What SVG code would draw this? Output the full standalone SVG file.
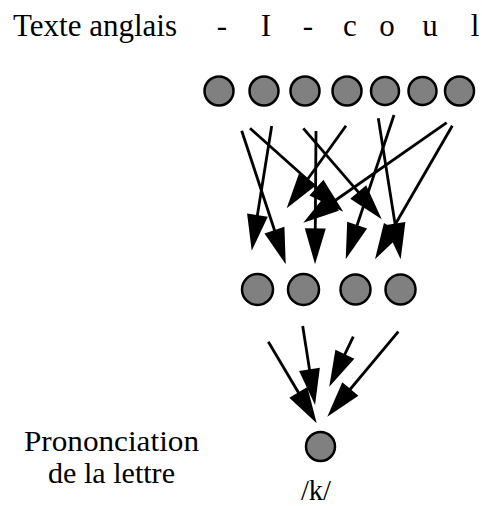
<svg xmlns="http://www.w3.org/2000/svg" width="482" height="506" viewBox="0 0 482 506">
<style>
.n{fill:#808080;stroke:#000;stroke-width:2.5}
.c{stroke:#000;stroke-width:2.8;fill:none;marker-end:url(#ah)}
.t{font-family:"Liberation Serif","Times New Roman",serif;font-size:31px;fill:#000}
.s{font-size:28.5px}
.m{text-anchor:middle}
</style>
<defs>
<marker id="ah" markerUnits="userSpaceOnUse" viewBox="0 -11 36 22" markerWidth="36" markerHeight="22" refX="26" refY="0" orient="auto" overflow="visible">
<path d="M0,-10.5 L36,0 L0,10.5 Z" fill="#000"/>
</marker>
</defs>
<rect width="482" height="506" fill="#fff"/>
<g id="labels">
<text class="t" x="13" y="36" textLength="164" lengthAdjust="spacingAndGlyphs">Texte anglais</text>
<text class="t m" x="222" y="36">-</text>
<text class="t m" x="266" y="36">I</text>
<text class="t m" x="308" y="36">-</text>
<text class="t m" x="350" y="36">c</text>
<text class="t m" x="387" y="36">o</text>
<text class="t m" x="430" y="36">u</text>
<text class="t m" x="475" y="36">l</text>
<text class="t s" x="24" y="451" textLength="175" lengthAdjust="spacingAndGlyphs">Prononciation</text>
<text class="t s" x="48" y="482.5" textLength="127" lengthAdjust="spacingAndGlyphs">de la lettre</text>
<text class="t s m" x="316" y="500">/k/</text>
</g>
<g id="connectors">
<line class="c" x1="241.7" y1="130.7" x2="282.6" y2="254.8"/>
<line class="c" x1="271.7" y1="126" x2="253.3" y2="240.8"/>
<line class="c" x1="250" y1="128.3" x2="335.8" y2="205.0"/>
<line class="c" x1="346" y1="125.7" x2="292.5" y2="200.2"/>
<line class="c" x1="303.3" y1="128.3" x2="375.2" y2="211.7"/>
<line class="c" x1="316" y1="131" x2="315.1" y2="254.3"/>
<line class="c" x1="378.3" y1="118.3" x2="399.1" y2="249.4"/>
<line class="c" x1="394" y1="115" x2="348.9" y2="249.8"/>
<line class="c" x1="446.7" y1="122.7" x2="311.5" y2="217.0"/>
<line class="c" x1="452.3" y1="125.7" x2="380.0" y2="250.7"/>
<line class="c" x1="268.3" y1="341.7" x2="311.6" y2="414.7"/>
<line class="c" x1="302.7" y1="326" x2="313.5" y2="395.1"/>
<line class="c" x1="353.3" y1="336.7" x2="333.6" y2="377.7"/>
<line class="c" x1="398.3" y1="331.7" x2="333.7" y2="409.0"/>
</g>
<g id="input-nodes">
<g id="in1"><circle class="n" cx="219" cy="91" r="14.5"/></g>
<g id="in2"><circle class="n" cx="264" cy="91" r="14.5"/></g>
<g id="in3"><circle class="n" cx="305" cy="91" r="14.5"/></g>
<g id="in4"><circle class="n" cx="347" cy="91" r="14.5"/></g>
<g id="in5"><circle class="n" cx="385" cy="91" r="14"/></g>
<g id="in6"><circle class="n" cx="422.5" cy="91" r="14"/></g>
<g id="in7"><circle class="n" cx="459.5" cy="91" r="14.5"/></g>
</g>
<g id="hidden-nodes">
<g id="h1"><circle class="n" cx="257.5" cy="289.5" r="15.5"/></g>
<g id="h2"><circle class="n" cx="303.5" cy="289.5" r="15.5"/></g>
<g id="h3"><circle class="n" cx="355.5" cy="289.5" r="15"/></g>
<g id="h4"><circle class="n" cx="400.5" cy="289.5" r="15"/></g>
</g>
<g id="output-node">
<g id="out1"><circle class="n" cx="320.5" cy="446.5" r="14.5"/></g>
</g>
</svg>
